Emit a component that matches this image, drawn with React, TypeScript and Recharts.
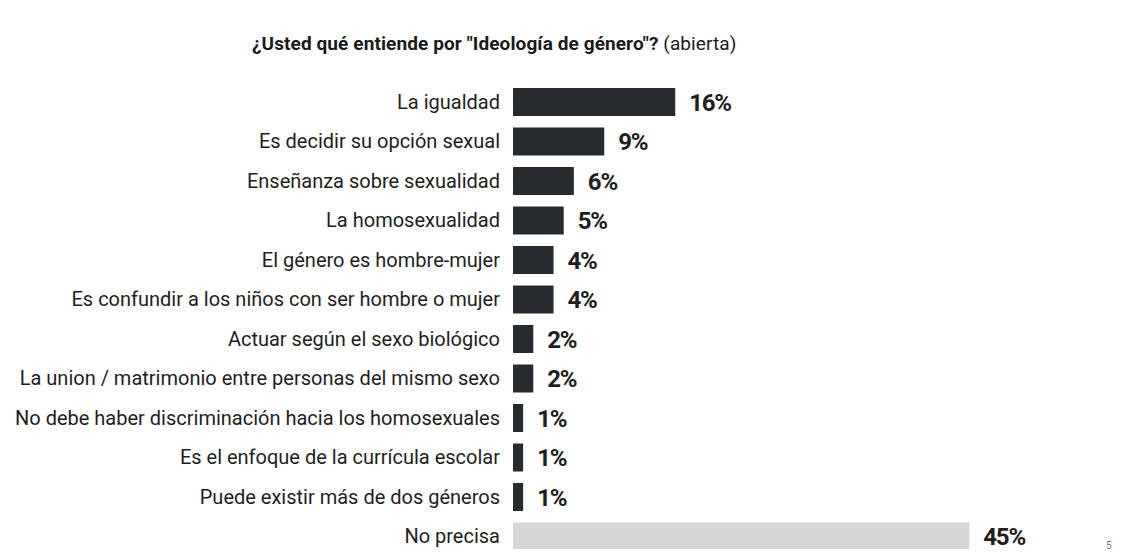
import React from 'react';
import { BarChart, Bar, XAxis, YAxis, Cell, LabelList } from 'recharts';

const categories = [
  'La igualdad',
  'Es decidir su opción sexual',
  'Enseñanza sobre sexualidad',
  'La homosexualidad',
  'El género es hombre-mujer',
  'Es confundir a los niños con ser hombre o mujer',
  'Actuar según el sexo biológico',
  'La union / matrimonio entre personas del mismo sexo',
  'No debe haber discriminación hacia los homosexuales',
  'Es el enfoque de la currícula escolar',
  'Puede existir más de dos géneros',
  'No precisa',
];
const values = [16, 9, 6, 5, 4, 4, 2, 2, 1, 1, 1, 45];
const barColors = ['#272b2f', '#272b2f', '#272b2f', '#272b2f', '#272b2f', '#272b2f', '#272b2f', '#272b2f', '#272b2f', '#272b2f', '#272b2f', '#d6d6d6'];

const data = categories.map((name, i) => ({ name, value: values[i] }));

const FONT = 'Roboto, "Open Sans", sans-serif';

export default function App() {
  return (
    <div style={{ position: 'relative', width: 1124, height: 557, margin: -8, background: '#fff', overflow: 'hidden', fontFamily: FONT }}>
      <div style={{ position: 'absolute', left: 252, top: 32, fontSize: 19, color: '#1a1a1a', letterSpacing: 0.1, whiteSpace: 'nowrap' }}>
        <span style={{ fontWeight: 700 }}>¿Usted qué entiende por "Ideología de género"?</span>
        <span style={{ fontWeight: 400 }}> (abierta)</span>
      </div>
      <BarChart
        width={1124}
        height={570}
        data={data}
        layout="vertical"
        margin={{ top: 82, right: 104, bottom: 14, left: 0 }}
        barSize={28}
      >
        <XAxis type="number" domain={[0, 50]} hide />
        <YAxis
          type="category"
          dataKey="name"
          width={513}
          axisLine={false}
          tickLine={false}
          tickMargin={7}
          interval={0}
          tick={{ fill: '#1e1e1e', fontSize: 20, fontFamily: FONT, letterSpacing: 0 }}
        />
        <Bar dataKey="value" isAnimationActive={false}>
          {data.map((d, i) => (
            <Cell key={d.name} fill={barColors[i]} />
          ))}
          <LabelList
            dataKey="value"
            position="right"
            offset={14}
            formatter={(v: number) => `${v}%`}
            style={{ fill: '#1e1e1e', fontSize: 24, fontWeight: 700, fontFamily: FONT, letterSpacing: -1.2 }}
          />
        </Bar>
      </BarChart>
      <div style={{ position: 'absolute', left: 1106, top: 540, fontSize: 10, color: '#777' }}>5</div>
    </div>
  );
}
